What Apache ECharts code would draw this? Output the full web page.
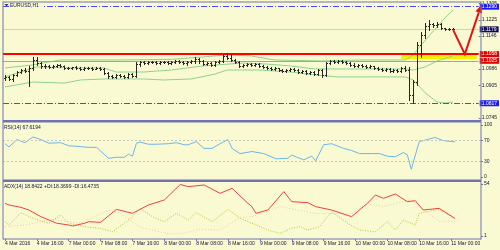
<!DOCTYPE html>
<html><head><meta charset="utf-8">
<script src="https://cdn.jsdelivr.net/npm/echarts@6/dist/echarts.min.js"></script>
<style>html,body{margin:0;padding:0;background:#fafad2}#c{width:500px;height:250px}</style>
</head><body><div id="c"></div>
<script>
// ---- data ----
const tickLabels = ['4 Mar 2016','4 Mar 16:00','7 Mar 00:00','7 Mar 08:00','7 Mar 16:00','8 Mar 00:00','8 Mar 08:00','8 Mar 16:00','9 Mar 00:00','9 Mar 08:00','9 Mar 16:00','10 Mar 00:00','10 Mar 08:00','10 Mar 16:00','11 Mar 00:00'];
const sessions = [['4 Mar',8,16],['7 Mar',0,24],['8 Mar',0,24],['9 Mar',0,24],['10 Mar',0,24],['11 Mar',0,8]];
const categories = [];
sessions.forEach(([d,h0,n])=>{for(let k=0;k<n;k++){const h=h0+k;categories.push(d+' '+(h<10?'0':'')+h+':00');}});

const open  = [1.0941,1.0946,1.0936,1.0956,1.0970,1.0980,1.0975,1.0990,1.1029,1.1014,1.1000,1.1000,1.0995,1.1000,1.1005,1.1000,1.0990,1.0990,1.0995,1.0990,1.0985,1.0990,1.0990,1.0985,1.0990,1.0985,1.0965,1.0951,1.0946,1.0956,1.0951,1.0946,1.0960,1.0951,1.1009,1.1019,1.1014,1.1019,1.1019,1.1014,1.1019,1.1019,1.1014,1.1019,1.1024,1.1019,1.1014,1.1019,1.1024,1.1034,1.1024,1.1009,1.1014,1.1005,1.1019,1.1024,1.1049,1.1039,1.1029,1.1019,1.1000,1.1005,1.1009,1.1005,1.1009,1.1000,1.0995,1.0990,1.0985,1.0990,1.0980,1.0975,1.0980,1.0985,1.0980,1.0970,1.0975,1.0965,1.0970,1.0960,1.0980,1.0956,1.1014,1.1024,1.1019,1.1024,1.1019,1.1014,1.1005,1.1000,1.1005,1.1000,1.0995,1.1000,1.0990,1.0985,1.0980,1.0985,1.0975,1.0980,1.0975,1.0990,1.0980,1.0858,1.0921,1.1103,1.1152,1.1196,1.1205,1.1201,1.1205,1.1186,1.1181,1.1181];
const high  = [1.0956,1.0951,1.0960,1.0975,1.0985,1.0990,1.1000,1.1044,1.1044,1.1019,1.1009,1.1005,1.1005,1.1009,1.1009,1.1002,1.0995,1.0995,1.1000,1.0995,1.0995,1.0995,1.0995,1.0995,1.0995,1.0990,1.0970,1.0956,1.0960,1.0960,1.0956,1.0965,1.0965,1.1019,1.1024,1.1024,1.1024,1.1024,1.1024,1.1024,1.1024,1.1024,1.1024,1.1029,1.1029,1.1024,1.1024,1.1029,1.1044,1.1039,1.1029,1.1019,1.1019,1.1024,1.1029,1.1058,1.1063,1.1058,1.1034,1.1024,1.1009,1.1014,1.1014,1.1014,1.1014,1.1005,1.1000,1.0995,1.0995,1.0990,1.0985,1.0985,1.0990,1.0990,1.0985,1.0980,1.0980,1.0975,1.0975,1.0985,1.0985,1.1019,1.1029,1.1029,1.1029,1.1029,1.1024,1.1019,1.1014,1.1009,1.1009,1.1005,1.1005,1.1000,1.0995,1.0990,1.0990,1.0990,1.0985,1.0985,1.0995,1.1000,1.0995,1.0931,1.1117,1.1166,1.1210,1.1225,1.1210,1.1215,1.1210,1.1186,1.1186,1.1186];
const low   = [1.0931,1.0931,1.0926,1.0951,1.0965,1.0970,1.0902,1.0980,1.1005,1.0990,1.0990,1.0990,1.0990,1.0995,1.0995,1.0985,1.0985,1.0985,1.0985,1.0980,1.0980,1.0985,1.0980,1.0985,1.0980,1.0960,1.0941,1.0941,1.0941,1.0946,1.0941,1.0941,1.0946,1.0946,1.1000,1.1009,1.1009,1.1014,1.1009,1.1009,1.1014,1.1009,1.1009,1.1014,1.1014,1.1009,1.1005,1.1014,1.1014,1.1014,1.1005,1.1005,1.1000,1.1000,1.1014,1.1019,1.1034,1.1024,1.1014,1.0995,1.0995,1.1000,1.1000,1.1000,1.0995,1.0990,1.0985,1.0980,1.0980,1.0975,1.0970,1.0970,1.0975,1.0975,1.0965,1.0965,1.0960,1.0960,1.0956,1.0956,1.0946,1.0951,1.1009,1.1014,1.1014,1.1014,1.1009,1.1000,1.0995,1.0995,1.0995,1.0990,1.0990,1.0985,1.0980,1.0975,1.0975,1.0970,1.0970,1.0970,1.0970,1.0975,1.0833,1.0818,1.0907,1.1044,1.1137,1.1176,1.1191,1.1191,1.1181,1.1176,1.1176,1.1176];
const close = [1.0946,1.0936,1.0956,1.0970,1.0980,1.0975,1.0990,1.1029,1.1014,1.1000,1.1000,1.0995,1.1000,1.1005,1.1000,1.0990,1.0990,1.0995,1.0990,1.0985,1.0990,1.0990,1.0985,1.0990,1.0985,1.0965,1.0951,1.0946,1.0956,1.0951,1.0946,1.0960,1.0951,1.1009,1.1019,1.1014,1.1019,1.1019,1.1014,1.1019,1.1019,1.1014,1.1019,1.1024,1.1019,1.1014,1.1019,1.1024,1.1034,1.1024,1.1009,1.1014,1.1005,1.1019,1.1024,1.1049,1.1039,1.1029,1.1019,1.1000,1.1005,1.1009,1.1005,1.1009,1.1000,1.0995,1.0990,1.0985,1.0990,1.0980,1.0975,1.0980,1.0985,1.0980,1.0970,1.0975,1.0965,1.0970,1.0960,1.0980,1.0956,1.1014,1.1024,1.1019,1.1024,1.1019,1.1014,1.1005,1.1000,1.1005,1.1000,1.0995,1.1000,1.0990,1.0985,1.0980,1.0985,1.0975,1.0980,1.0975,1.0990,1.0980,1.0858,1.0921,1.1103,1.1152,1.1196,1.1205,1.1201,1.1205,1.1186,1.1181,1.1181,1.1179];

const bbUpper  = [[0,1.0990],[7,1.1005],[14,1.1029],[30,1.1029],[42,1.1032],[50,1.1044],[56,1.1054],[62,1.1049],[68,1.1029],[80,1.1024],[90,1.1029],[101,1.1029],[103,1.1054],[105,1.1103],[107,1.1147],[109,1.1191],[111,1.1235],[113,1.1274]];
const bbMiddle = [[0,1.0946],[8,1.0995],[16,1.0990],[25,1.0990],[28,1.0970],[35,1.0970],[42,1.0980],[50,1.1000],[60,1.1014],[66,1.1009],[72,1.1000],[78,1.0985],[84,1.0985],[92,1.0985],[101,1.0985],[103,1.0980],[106,1.0995],[109,1.1024],[113,1.1049]];
const bbLower  = [[0,1.0897],[7,1.0921],[15,1.0916],[19,1.0931],[25,1.0936],[35,1.0936],[40,1.0931],[47,1.0936],[53,1.0960],[56,1.0980],[64,1.0980],[72,1.0970],[78,1.0956],[84,1.0946],[92,1.0946],[101,1.0946],[103,1.0931],[106,1.0868],[109,1.0823],[111,1.0818],[113,1.0823]];

const rsi = [[0,64],[1,58],[3,72],[5,66],[7,77],[9,72],[11,65],[14,66],[16,60],[18,59],[21,57],[23,57],[26,36],[28,38],[30,38],[31,44],[32,40],[33,65],[34,67],[36,63],[38,63],[41,64],[43,66],[45,62],[46,62],[48,68],[50,55],[52,55],[54,64],[56,72],[57,55],[59,45],[62,49],[65,45],[68,35],[71,36],[72,42],[75,33],[77,40],[78,31],[80,62],[82,64],[85,55],[87,51],[89,45],[92,45],[94,45],[96,40],[98,39],[100,47],[101,43],[102,15],[104,68],[106,72],[108,76],[110,70],[113,67.6]];
const adx = [[0,34.3],[1,32.6],[4,30.2],[6,27.5],[9,20.7],[13,14],[16,12.2],[17,11.2],[20,14],[21,15.6],[24,14.9],[28,28.2],[32,24.1],[36,32.6],[40,37.7],[44,53.5],[46,51.3],[50,53],[54,44.5],[57,49.6],[61,34.3],[62,30.9],[63,24.1],[66,27.5],[70,46.2],[72,36],[76,35],[78,30.9],[82,27.5],[87,20.7],[91,34.3],[93,42.8],[95,39.4],[98,43.8],[101,36],[103,37],[105,27.5],[109,29.2],[113,18.84]];
const plusDI = [[0,15.6],[1,12.2],[4,24.8],[7,19],[11,14],[14,22.4],[16,14],[20,10.5],[24,8.8],[27,5.4],[31,17.3],[34,29.2],[37,20.7],[40,15.6],[43,24.1],[46,17.3],[48,24.8],[52,15.6],[56,28.2],[59,19],[62,14],[66,7.1],[69,3.7],[72,8.8],[74,10.5],[76,7.1],[79,10.5],[82,25.8],[86,14],[89,7.1],[93,5.4],[96,15.6],[98,7.1],[100,17.3],[103,12.2],[104,24.1],[109,28.2],[113,18.37]];
const minusDI = [[0,10.5],[5,12.2],[12,18],[19,14],[26,27.5],[29,24],[34,10],[41,3],[45,4],[49,8],[54,7],[59,20],[62,20.7],[69,31],[78,24],[87,24],[91,34],[95,31],[102,38],[106,25],[109,15.6],[113,16.47]];

const mainTicks = [1.1305,1.1225,1.1146,1.0986,1.0905,1.0745];
const rsiTicks = [0,30,70,100];
const adxTicks = [1,54];
const levels = [
  {v:1.1290, kind:'blue'},
  {v:1.1179, kind:'bid'},
  {v:1.1058, kind:'red'},
  {v:1.1025, kind:'red2'},
  {v:1.0817, kind:'blue'}
];
const zone = [100,119,1.1058,1.1032];
const arrowPath = [[113,1.1179],[116,1.1058],[120,1.1290]];

// ---- styles ----
const BG='#fafad2', AX='#7272b2', TXT='#14143a', F='Liberation Sans', FS=5;
const GREEN='#8fd28f';
const levelStyle = {
  blue:{line:{color:'#4646ff',width:1,type:[6,2,1,2]}, bg:'#1c1cf0'},
  bid:{line:{color:'#d0d0c0',width:1,type:'solid'}, bg:'#0c0c58'},
  red:{line:{color:'#ff0000',width:2,type:'solid'}, bg:'#e80000'},
  red2:{line:{color:'#e88a7a',width:1,type:'solid'}, bg:'#e80000'}
};

const chart = echarts.init(document.getElementById('c'), null, {renderer:'canvas', width:500, height:250});

const xAxes = [0,1,2].map(k=>({
  type:'category', gridIndex:k, data:categories, boundaryGap:true, show:k===2, offset:k===2?3:0,
  axisLine:{show:false},
  axisTick:{show:true, interval:(i)=>i%8===0, alignWithLabel:true, length:2, lineStyle:{color:AX}},
  axisLabel:{interval:(i)=>i%8===0, formatter:(v,i)=>tickLabels[i/8]||'', align:'left', fontSize:FS, color:TXT, margin:2, fontFamily:F},
  splitLine:{show:false}
}));
function yAx(k,min,max,ticks,fmt){
  return {type:'value', gridIndex:k, position:'right', min, max, scale:true,
    axisLine:{show:false}, splitLine:{show:false},
    axisTick:{show:true, customValues:ticks, length:2, lineStyle:{color:AX}},
    axisLabel:{customValues:ticks, formatter:fmt, fontSize:FS, color:TXT, margin:3, fontFamily:F}};
}

const option = {
  backgroundColor:BG, animation:false,
  grid:[
    {left:3,right:19,top:2,height:118},
    {left:3,right:19,top:125,height:52},
    {left:3,right:19,top:184,height:52}
  ],
  xAxis:xAxes,
  yAxis:[
    yAx(0,1.0735,1.1313,mainTicks,v=>v.toFixed(4)),
    yAx(1,0,100,rsiTicks,v=>String(v)),
    yAx(2,1,54,adxTicks,v=>String(v))
  ],
  series:[
    {type:'line', xAxisIndex:0, yAxisIndex:0, data:bbUpper, symbol:'none', lineStyle:{color:GREEN,width:1}, z:2},
    {type:'line', xAxisIndex:0, yAxisIndex:0, data:bbLower, symbol:'none', lineStyle:{color:GREEN,width:1}, z:2},
    {type:'line', xAxisIndex:0, yAxisIndex:0, data:bbMiddle, symbol:'none', lineStyle:{color:GREEN,width:1}, z:4,
      markArea:{silent:true, label:{show:false}, itemStyle:{color:'#f2f200',opacity:1}, data:[[{xAxis:zone[0],yAxis:zone[2]},{xAxis:zone[1],yAxis:zone[3]}]]}},
    {type:'custom', xAxisIndex:0, yAxisIndex:0, z:5,
      data:open.map((o,i)=>[i,o,high[i],low[i],close[i]]),
      encode:{x:0,y:[1,2,3,4]},
      renderItem(params, api){
        const i=api.value(0);
        const pO=api.coord([i,api.value(1)]), pH=api.coord([i,api.value(2)]), pL=api.coord([i,api.value(3)]), pC=api.coord([i,api.value(4)]);
        const x=Math.round(pH[0])+0.5;
        const st={stroke:'#262626',lineWidth:1};
        return {type:'group',children:[
          {type:'line',shape:{x1:x,y1:pH[1],x2:x,y2:pL[1]+1},style:st},
          {type:'line',shape:{x1:x-1.5,y1:Math.round(pO[1])+0.5,x2:x,y2:Math.round(pO[1])+0.5},style:st},
          {type:'line',shape:{x1:x,y1:Math.round(pC[1])+0.5,x2:x+1.5,y2:Math.round(pC[1])+0.5},style:st}
        ]};
      },
      markLine:{silent:true, symbol:'none', precision:4, animation:false,
        data:levels.map(l=>({yAxis:l.v, lineStyle:levelStyle[l.kind].line,
          label:{show:true, position:'end', distance:1, formatter:l.v.toFixed(4), color:'#ffffff', backgroundColor:levelStyle[l.kind].bg,
            padding:[1,2,0,2], fontSize:FS, lineHeight:5, fontFamily:F}}))}
    },
    {type:'line', xAxisIndex:1, yAxisIndex:1, data:rsi, symbol:'none', lineStyle:{color:'#6cb6ec',width:1},
      markLine:{silent:true, symbol:'none', label:{show:false}, lineStyle:{color:'#c8c8c0',type:[2,2],width:1}, data:[{yAxis:70},{yAxis:30}]}},
    {type:'line', xAxisIndex:2, yAxisIndex:2, data:minusDI, symbol:'none', lineStyle:{color:'#f2c8a8',width:1,type:[1,2]}},
    {type:'line', xAxisIndex:2, yAxisIndex:2, data:plusDI, symbol:'none', lineStyle:{color:'#a9c93a',width:1,type:[1,1.5]}},
    {type:'line', xAxisIndex:2, yAxisIndex:2, data:adx, symbol:'none', lineStyle:{color:'#f24040',width:1}}
  ]
};
chart.setOption(option);

// arrow from data coordinates
const pts = arrowPath.map(p=>chart.convertToPixel({xAxisIndex:0,yAxisIndex:0},p));
const a=pts[pts.length-2], b=pts[pts.length-1];
let dx=b[0]-a[0], dy=b[1]-a[1]; const L=Math.hypot(dx,dy); dx/=L; dy/=L;
const nx=-dy, ny=dx;
const tip=[b[0]+dx*1.5,b[1]+dy*1.5], base=[b[0]-dx*6,b[1]-dy*6];
const head=[tip,[base[0]+nx*3.5,base[1]+ny*3.5],[base[0]-nx*3.5,base[1]-ny*3.5]];

chart.setOption({graphic:[
  {type:'polyline', shape:{points:pts.slice(0,-1).concat([base])}, style:{stroke:'#ea1010',lineWidth:2,fill:null}, z:50},
  {type:'polygon', shape:{points:head}, style:{fill:'#ea1010'}, z:50},
  // panel frame
  {type:'rect', shape:{x:3,y:1.5,width:478,height:1}, style:{fill:AX}, z:60},
  {type:'rect', shape:{x:2.5,y:1.5,width:1,height:238}, style:{fill:AX}, z:60},
  {type:'rect', shape:{x:480.5,y:1.5,width:1,height:238}, style:{fill:AX}, z:60},
  {type:'rect', shape:{x:3,y:120,width:478,height:2.5}, style:{fill:AX}, z:60},
  {type:'rect', shape:{x:3,y:179.5,width:478,height:2.5}, style:{fill:AX}, z:60},
  {type:'rect', shape:{x:3,y:238.5,width:478,height:1}, style:{fill:AX}, z:60},
  // captions
  {type:'polygon', shape:{points:[[4.5,4],[8.5,4],[6.5,6.5]]}, style:{fill:'#333366'}, z:61},
  {type:'text', x:9, y:3, style:{text:'EURUSD,H1', fontSize:FS, fill:TXT, fontFamily:F, backgroundColor:BG, padding:[0,3,0,1]}, z:61},
  {type:'text', x:4, y:125, style:{text:'RSI(14) 67.6194', fontSize:FS, fill:TXT, fontFamily:F}, z:61},
  {type:'text', x:4, y:184, style:{text:'ADX(14) 18.8422 +DI:18.3699 -DI:16.4735', fontSize:FS, fill:TXT, fontFamily:F}, z:61}
]});
</script></body></html>
